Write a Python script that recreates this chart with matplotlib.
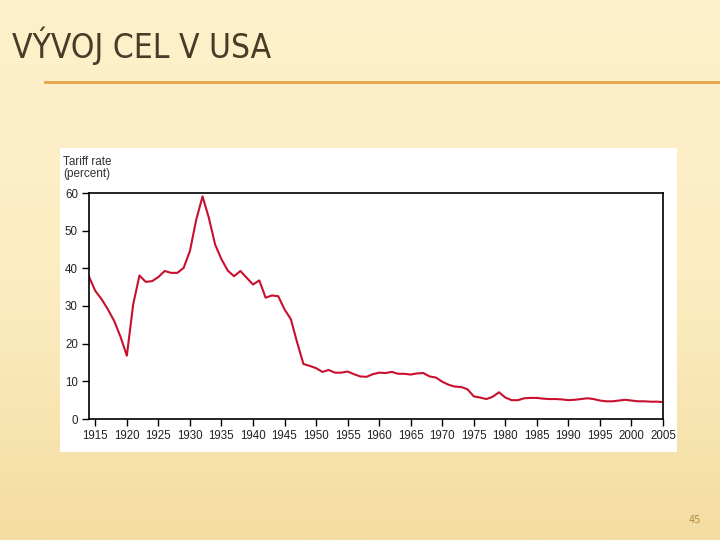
import numpy as np
from matplotlib import pyplot as plt
from matplotlib.patches import Rectangle
from matplotlib.colors import LinearSegmentedColormap

years = list(range(1914, 2006))
tariff = [37.8, 34.0, 31.8, 29.1, 26.0, 21.8, 16.8, 30.4, 38.1, 36.4,
          36.6, 37.7, 39.3, 38.8, 38.8, 40.1, 44.6, 52.9, 59.1, 53.4,
          46.3, 42.4, 39.4, 37.9, 39.3, 37.5, 35.7, 36.8, 32.2, 32.8,
          32.6, 29.1, 26.5, 20.3, 14.6, 14.1, 13.5, 12.5, 13.0, 12.3,
          12.3, 12.6, 11.9, 11.3, 11.2, 11.9, 12.3, 12.2, 12.5, 12.0,
          12.0, 11.8, 12.1, 12.2, 11.3, 11.0, 9.9, 9.1, 8.6, 8.5,
          7.9, 6.0, 5.7, 5.3, 5.9, 7.1, 5.7, 5.0, 5.0, 5.5,
          5.6, 5.6, 5.4, 5.3, 5.3, 5.2, 5.0, 5.1, 5.3, 5.5,
          5.3, 4.9, 4.7, 4.7, 4.9, 5.1, 4.9, 4.7, 4.7, 4.6,
          4.6, 4.5]
x_ticks = list(range(1915, 2006, 5))
y_ticks = [0, 10, 20, 30, 40, 50, 60]

fig = plt.figure(figsize=(7.2, 5.4), dpi=100)

# slide background with a soft gradient
bg = fig.add_axes([0, 0, 1, 1], zorder=0)
grad = np.linspace(0, 1, 256).reshape(-1, 1)
cmap = LinearSegmentedColormap.from_list('slide', ['#fdf1cb', '#fcedc2', '#f4dda2'])
bg.imshow(grad, aspect='auto', cmap=cmap, extent=[0, 1, 0, 1], origin='upper')
bg.set_xlim(0, 1)
bg.set_ylim(0, 1)
bg.axis('off')

# title and rule
fig.text(0.016, 0.915, 'VÝVOJ CEL V USA', fontsize=24, color='#4a3a28',
         family='DejaVu Sans', fontstretch='condensed', va='center', ha='left')
bg.plot([45 / 720, 1.0], [1 - 82 / 540, 1 - 82 / 540], color='#e3a646', lw=2)

# white chart panel
bg.add_patch(Rectangle((60 / 720, 1 - 452 / 540), 617 / 720, 304 / 540,
                       facecolor='white', edgecolor='none'))

fig.text(63 / 720, 1 - 156 / 540, 'Tariff rate\n(percent)', fontsize=8.5,
         color='#333333', va='top', ha='left', linespacing=1.05,
         family=['Liberation Sans', 'DejaVu Sans'])

ax = fig.add_axes([89 / 720, 1 - 419 / 540, 574 / 720, 226 / 540], zorder=1)
ax.plot(years, tariff, color='#c8102e', lw=1.5)
ax.set_xlim(1914, 2005)
ax.set_ylim(0, 60)
ax.set_xticks(x_ticks)
ax.set_yticks(y_ticks)
ax.tick_params(axis='both', which='major', labelsize=8.3, length=5, width=1,
               direction='out', colors='black', labelcolor='#222222', pad=3)
for lbl in ax.get_xticklabels() + ax.get_yticklabels():
    lbl.set_family(['Liberation Sans', 'DejaVu Sans'])
for s in ax.spines.values():
    s.set_linewidth(1.2)

fig.text(695 / 720, 1 - 520 / 540, '45', fontsize=7, color='#b08a3c',
         ha='center', va='center')

fig.savefig('out.png', dpi=100)
